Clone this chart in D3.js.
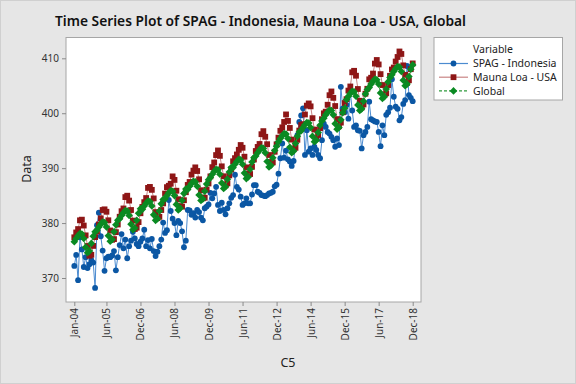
<!DOCTYPE html>
<html><head><meta charset="utf-8">
<script src="https://cdn.jsdelivr.net/npm/d3@7"></script>
<style>
body{margin:0;background:#e6e6e6}
svg{display:block}
text{font-family:"Noto Sans","Open Sans",sans-serif;fill:#222}
</style>
</head><body>
<svg id="c" width="576" height="384"></svg>
<script>
const tickIndex  = [0, 17, 35, 53, 71, 89, 107, 125, 143, 161, 179];
const tickLabels = ["Jan-04","Jun-05","Dec-06","Jun-08","Dec-09","Jun-11","Dec-12","Jun-14","Dec-15","Jun-17","Dec-18"];
const yTicks = [370, 380, 390, 400, 410];
const seriesNames = ["SPAG - Indonesia", "Mauna Loa - USA", "Global"];

const spag = [
372.2,374.2,369.6,377.4,375.2,372.0,373.8,371.8,372.5,373.3,372.8,368.2,
379.6,381.9,377.6,375.0,371.3,373.6,373.9,373.8,374.1,374.9,371.4,373.8,
376.0,378.0,375.4,377.0,373.6,375.8,376.8,378.4,377.2,376.2,375.8,376.6,
377.2,378.8,375.8,376.9,375.4,377.1,374.9,374.0,374.8,375.8,377.0,380.1,
378.2,378.7,384.2,382.2,380.8,380.0,377.8,380.4,380.0,378.5,375.6,376.8,
382.4,382.3,381.5,381.8,381.0,382.4,382.0,381.0,380.5,382.7,383.0,383.4,
385.5,384.5,385.4,386.6,383.3,382.2,383.7,382.4,381.6,382.7,383.6,384.6,
385.1,388.8,386.6,386.1,384.8,383.3,383.6,384.5,383.6,383.6,385.2,386.9,
386.9,385.7,385.5,385.1,385.0,384.9,385.1,385.4,385.5,385.7,386.7,387.0,
389.0,391.8,394.5,391.9,393.2,391.6,391.2,390.4,391.3,394.5,396.0,398.4,
399.6,400.9,392.4,396.9,393.0,393.6,392.4,393.9,393.3,392.4,391.8,395.1,
398.1,397.5,396.6,396.3,395.7,395.1,393.9,395.4,394.2,404.8,400.9,400.2,
401.5,399.0,403.9,400.5,397.5,397.8,396.9,396.8,393.6,396.0,396.6,397.5,
402.1,398.9,398.7,398.5,398.4,396.6,394.0,397.8,396.0,399.7,400.2,401.0,
406.2,403.0,401.2,400.8,398.7,399.3,401.7,402.4,408.6,403.3,402.8,402.2];

const maunaLoa = [
377.41,378.29,378.91,380.50,380.62,379.55,377.76,375.83,374.05,374.22,375.84,377.44,
378.47,379.76,380.87,382.38,382.50,382.06,380.51,378.65,376.96,377.08,378.35,379.74,
381.15,382.16,382.66,384.73,384.98,384.09,382.38,380.45,378.92,379.16,380.18,381.79,
382.93,383.81,384.56,386.40,386.58,386.05,384.49,382.00,380.90,381.14,382.38,383.58,
385.37,386.54,386.79,387.16,388.50,387.86,385.89,384.34,383.09,382.99,384.16,385.62,
386.94,387.48,388.82,389.55,390.14,389.48,387.97,385.98,384.51,384.62,386.08,387.21,
388.50,390.18,391.03,392.38,393.22,392.24,390.33,388.52,386.86,387.23,388.68,389.79,
391.25,391.82,392.49,393.34,394.21,393.71,392.08,390.14,389.00,388.93,390.24,391.57,
393.12,393.86,394.40,396.18,396.74,395.71,394.36,392.39,391.11,391.05,392.98,394.34,
395.55,396.80,397.43,398.41,399.78,398.60,397.32,395.20,393.45,393.70,395.16,396.84,
397.85,398.01,399.77,401.38,401.78,401.25,399.10,397.03,395.38,396.03,397.28,398.91,
399.98,400.28,401.54,403.28,403.96,402.80,401.31,398.93,397.63,398.29,400.16,401.85,
402.56,404.12,404.87,407.45,407.72,406.83,404.41,402.27,401.05,401.59,403.55,404.45,
406.17,406.46,407.22,409.04,409.69,408.88,407.12,405.13,403.37,403.63,405.12,406.81,
407.96,408.32,409.41,410.24,411.24,410.79,408.71,406.99,405.51,406.00,408.02,409.07];

const globalCO2 = [
376.6,377.2,377.7,378.1,378.0,377.2,375.6,374.6,374.9,376.3,377.6,378.4,
378.7,379.3,379.8,380.2,380.1,379.3,377.7,376.7,377.0,378.4,379.7,380.5,
380.8,381.4,381.9,382.3,382.2,381.4,379.8,378.8,379.1,380.5,381.8,382.6,
382.5,383.1,383.6,384.0,383.9,383.1,381.5,380.5,380.8,382.2,383.5,384.3,
384.4,385.0,385.5,385.9,385.8,385.0,383.4,382.4,382.7,384.1,385.4,386.2,
386.1,386.7,387.2,387.6,387.5,386.7,385.1,384.1,384.4,385.8,387.1,387.9,
388.3,388.9,389.4,389.8,389.7,388.9,387.3,386.3,386.6,388.0,389.3,390.1,
390.1,390.7,391.2,391.6,391.5,390.7,389.1,388.1,388.4,389.8,391.1,391.9,
392.2,392.8,393.3,393.7,393.6,392.8,391.2,390.2,390.5,391.9,393.2,394.0,
394.8,395.4,395.9,396.3,396.2,395.4,393.8,392.8,393.1,394.5,395.8,396.6,
396.8,397.4,397.9,398.3,398.2,397.4,395.8,394.8,395.1,396.5,397.8,398.6,
399.1,399.7,400.2,400.6,400.5,399.7,398.1,397.1,397.4,398.8,400.1,400.9,
402.5,403.1,403.6,404.0,403.9,403.1,401.5,400.5,400.8,402.2,403.5,404.3,
404.7,405.3,405.8,406.2,406.1,405.3,403.7,402.7,403.0,404.4,405.7,406.5,
407.0,407.6,408.1,408.5,408.4,407.6,406.0,405.0,405.3,406.7,408.0,408.8];

const svg = d3.select("#c");
const W = 576, H = 384;
const frame = {x0: 66, x1: 421, y0: 37.5, y1: 302};

svg.append("rect").attr("x",0.5).attr("y",0.5).attr("width",W-1).attr("height",H-1)
  .attr("fill","#e6e6e6").attr("stroke","#d0d0d0");

svg.append("rect").attr("x",frame.x0).attr("y",frame.y0)
  .attr("width",frame.x1-frame.x0).attr("height",frame.y1-frame.y0)
  .attr("fill","#fff").attr("stroke","#a6a6a6").attr("stroke-width",1);

const x = d3.scaleLinear().domain([0,179]).range([74.3,412.7]);
const y = d3.scaleLinear().domain([370,410]).range([278,58.3]);

// axes
const yAxis = d3.axisLeft(y).tickValues(yTicks).tickSize(4).tickPadding(3);
const gy = svg.append("g").attr("transform",`translate(${frame.x0},0)`).call(yAxis);
gy.select(".domain").remove();
gy.selectAll("line").attr("stroke","#8a8a8a");
gy.selectAll("text").style("font-size","10px").style("fill","#333");

const xAxis = d3.axisBottom(x).tickValues(tickIndex).tickFormat((d,i)=>tickLabels[i]).tickSize(4);
const gx = svg.append("g").attr("transform",`translate(0,${frame.y1})`).call(xAxis);
gx.select(".domain").remove();
gx.selectAll("line").attr("stroke","#8a8a8a");
gx.selectAll("text").style("font-size","10px").style("fill","#333")
  .attr("text-anchor","end").attr("transform","rotate(-90)")
  .attr("x",-6).attr("y",0).attr("dy","0.35em");

// lines
const line = d3.line().x((d,i)=>x(i)).y(d=>y(d));
const g = svg.append("g");
const st = [
  {data: spag, line:"#4b8bd0", dash:null, mark:"#0b57a4", shape:"circle"},
  {data: maunaLoa, line:"#c98585", dash:null, mark:"#8e1616", shape:"square"},
  {data: globalCO2, line:"#2f9a3c", dash:"3,2", mark:"#0a8a22", shape:"diamond"}
];
function drawMarker(sel, shape, color){
  if(shape==="circle") sel.append("circle").attr("r",2.9).attr("fill",color);
  else if(shape==="square") sel.append("rect").attr("x",-2.9).attr("y",-2.9).attr("width",5.8).attr("height",5.8).attr("fill",color);
  else sel.append("path").attr("d","M0,-3.8L3.8,0L0,3.8L-3.8,0Z").attr("fill",color);
}
st.forEach(s=>{
  g.append("path").datum(s.data).attr("d",line).attr("fill","none")
   .attr("stroke",s.line).attr("stroke-width",1).attr("stroke-dasharray",s.dash);
  const m = g.append("g").selectAll("g").data(s.data).join("g")
   .attr("transform",(d,i)=>`translate(${x(i)},${y(d)})`);
  drawMarker(m, s.shape, s.mark);
});

// title & labels
svg.append("text").attr("x",260.5).attr("y",26).attr("text-anchor","middle")
  .style("font-size","15px").style("font-weight","600").style("fill","#111")
  .attr("textLength",411).attr("lengthAdjust","spacingAndGlyphs")
  .text("Time Series Plot of SPAG - Indonesia, Mauna Loa - USA, Global");
svg.append("text").attr("transform","translate(31,169) rotate(-90)").attr("text-anchor","middle")
  .style("font-size","12.5px").text("Data");
svg.append("text").attr("x",288).attr("y",367).attr("text-anchor","middle")
  .style("font-size","12.5px").text("C5");

// legend
const lg = svg.append("g");
lg.append("rect").attr("x",434).attr("y",37.5).attr("width",128.5).attr("height",62.5)
  .attr("fill","#fff").attr("stroke","#a6a6a6");
lg.append("text").attr("x",473).attr("y",53).style("font-size","10.5px").text("Variable");
st.forEach((s,i)=>{
  const yy = 63.5 + i*13.7;
  lg.append("line").attr("x1",439).attr("x2",468).attr("y1",yy).attr("y2",yy)
    .attr("stroke",s.line).attr("stroke-width",1.2).attr("stroke-dasharray",s.dash);
  const m = lg.append("g").attr("transform",`translate(453.5,${yy})`);
  drawMarker(m, s.shape, s.mark);
  lg.append("text").attr("x",473).attr("y",yy+3.7).style("font-size","10.5px").text(seriesNames[i]);
});
</script>
</body></html>
